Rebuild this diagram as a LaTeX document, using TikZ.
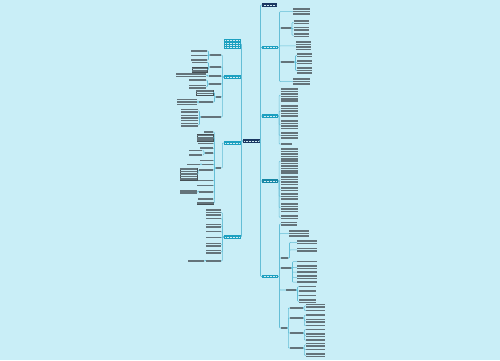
\documentclass[tikz,border=0pt]{standalone}
\definecolor{bg}{RGB}{201,238,247}
\definecolor{linec}{RGB}{100,190,214}
\definecolor{navy}{RGB}{26,55,98}
\definecolor{tealc}{RGB}{28,160,192}
\definecolor{teald}{RGB}{22,135,165}
\definecolor{txt}{RGB}{100,115,122}
\newcommand\tb[6][]{%
 \node[tbox,minimum width=#5pt,minimum height=#6*2.4pt,#1] (#2) at ({#3+#5/2},{#4+#6*1.2}) {};
 \foreach \k in {1,...,#6}{\draw[tl] ({#3+0.4},{#4+\k*2.4-1.2}) -- ({#3+#5-0.4},{#4+\k*2.4-1.2});}%
}
\newcommand\rc[3]{\draw[conn] (#1.east) -- ++(#2,0) |- (#3.west);}
\newcommand\lc[3]{\draw[conn] (#1.west) -- ++(-#2,0) |- (#3.east);}
\begin{document}
\begin{tikzpicture}[x=1pt,y=-1pt,
 conn/.style={draw=linec,line width=0.55pt,rounded corners=0.8pt},
 tbox/.style={inner sep=0pt,outer sep=0pt},
 ob/.style={draw=txt!70!black,line width=0.3pt},
 tl/.style={draw=txt,line width=1.55pt,dash pattern=on 1.7pt off 0.3pt},
 wl/.style={draw=white!80!tealc,line width=0.7pt,dash pattern=on 1.2pt off 0.3pt},
 br/.style={inner sep=0pt,outer sep=0pt,minimum width=16pt,minimum height=3.5pt,
  path picture={\draw[wl]([xshift=1.5pt]path picture bounding box.west)--([xshift=-1.5pt]path picture bounding box.east);}},
]
\fill[bg] (0,0) rectangle (500,360);
\useasboundingbox (0,0) rectangle (500,360);

% centre and main branches
\node[br,fill=navy,minimum width=17pt,minimum height=4pt] (c) at (251,141) {};
\node[br,fill=navy,minimum width=15pt] (R1) at (269.5,5) {};
\node[br,fill=tealc] (R2) at (270,47.5) {};
\node[br,fill=tealc] (R3) at (270,116) {};
\node[br,fill=teald] (R4) at (270,181) {};
\node[br,fill=tealc] (R5) at (270,276.5) {};
\foreach \n in {R1,R2,R3,R4,R5}{\rc{c}{1}{\n}}

\node[tbox,fill=tealc,minimum width=17pt,minimum height=9.5pt] (L1) at (232,43.75) {};
\foreach \yy in {40.8,43.1,45.4,47.7}{\draw[wl] (225,\yy) -- (239,\yy);}
\node[br,fill=tealc,minimum width=17pt] (L2) at (232,77) {};
\node[br,fill=tealc,minimum width=17pt] (L3) at (232,143) {};
\node[br,fill=tealc,minimum width=17pt] (L4) at (232,237) {};
\foreach \n in {L1,L2,L3,L4}{\lc{c}{1}{\n}}

% R2 subtree
\tb{R2a}{293}{8}{17}{3}
\tb{R2b}{281}{26.8}{10}{1}
\tb{R2b1}{293.5}{20}{15}{2}
\tb{R2b2}{293.5}{26.5}{15}{2}
\tb{R2b3}{293.5}{33}{15}{2}
\tb{R2c}{295.5}{41}{16}{4}
\tb{R2d}{281}{60.8}{13}{1}
\tb{R2d1}{297}{53}{15}{2}
\tb{R2d2}{297}{60}{15}{2}
\tb{R2d3}{297}{67}{15}{3}
\tb{R2e}{293}{78}{17}{3}
\foreach \n in {R2a,R2b,R2c,R2d,R2e}{\rc{R2}{1.5}{\n}}
\foreach \n in {R2b1,R2b2,R2b3}{\rc{R2b}{1}{\n}}
\foreach \n in {R2d1,R2d2,R2d3}{\rc{R2d}{1.5}{\n}}

% R3 subtree
\tb{R3a}{280.5}{88}{17}{6}
\tb{R3b}{280.5}{105}{17}{5}
\tb{R3c}{280.5}{120}{17}{4}
\tb{R3d}{280.5}{132}{17}{3}
\tb{R3e}{280.5}{143}{12}{1}
\foreach \n in {R3a,R3b,R3c,R3d,R3e}{\rc{R3}{1.2}{\n}}

% R4 subtree
\tb{R4a}{280.5}{148}{17}{11}
\tb{R4b}{280.5}{176}{17}{4}
\tb{R4c}{280.5}{187}{17}{2}
\tb{R4d}{280.5}{193}{17}{3}
\tb{R4e}{280.5}{203}{17}{4}
\tb{R4f}{280.5}{215}{17}{2}
\foreach \n in {R4a,R4b,R4c,R4d,R4e,R4f}{\rc{R4}{1.2}{\n}}

% R5 subtree
\tb{R5a}{281}{221.5}{16}{2}
\tb{R5b}{289}{230}{20}{3}
\tb{R5c}{281}{256.8}{7}{1}
\tb{R5c1}{297}{240}{20}{2}
\tb{R5c2}{297}{247.5}{20}{2}
\tb{R5d}{281}{266.8}{10}{1}
\tb{R5d1}{297}{260.5}{20}{1}
\tb{R5d2}{297}{265}{20}{2}
\tb{R5d3}{297}{271}{20}{1}
\tb{R5d4}{297}{275}{20}{2}
\tb{R5d5}{297}{281}{20}{1}
\tb{R5e}{286}{288.8}{10}{1}
\tb{R5e1}{299}{285.5}{17}{1}
\tb{R5e2}{299}{290}{17}{1}
\tb{R5e3}{299}{294.5}{17}{1}
\tb{R5e4}{299}{299}{17}{2}
\tb{R5f}{281}{326.8}{6}{1}
\tb{S1}{290}{306.8}{13}{1}
\tb{S2}{290}{316.8}{13}{1}
\tb{S3}{290}{331.8}{13}{1}
\tb{S4}{290}{346.8}{13}{1}
\tb{S1a}{306}{303.5}{19}{2}
\tb{S1b}{306}{309.5}{19}{1}
\tb{S2a}{306}{314}{19}{1}
\tb{S2b}{306}{318.5}{19}{2}
\tb{S2c}{306}{324.5}{19}{1}
\tb{S3a}{306}{328.5}{19}{1}
\tb{S3b}{306}{333}{19}{2}
\tb{S3c}{306}{339}{19}{1}
\tb{S4a}{306}{342.5}{19}{2}
\tb{S4b}{306}{348.5}{19}{1}
\tb{S4c}{306}{353}{19}{2}
\foreach \n in {R5a,R5b,R5c,R5d,R5e,R5f}{\rc{R5}{1.5}{\n}}
\foreach \n in {R5c1,R5c2}{\rc{R5c}{1.5}{\n}}
\foreach \n in {R5d1,R5d2,R5d3,R5d4,R5d5}{\rc{R5d}{1.5}{\n}}
\foreach \n in {R5e1,R5e2,R5e3,R5e4}{\rc{R5e}{1.5}{\n}}
\foreach \n in {S1,S2,S3,S4}{\rc{R5f}{1.3}{\n}}
\foreach \n in {S1a,S1b}{\rc{S1}{1.3}{\n}}
\foreach \n in {S2a,S2b,S2c}{\rc{S2}{1.3}{\n}}
\foreach \n in {S3a,S3b,S3c}{\rc{S3}{1.3}{\n}}
\foreach \n in {S4a,S4b,S4c}{\rc{S4}{1.3}{\n}}

% L2 subtree
\tb{A}{210}{53.8}{11}{1}
\tb{A1}{191}{49.8}{16}{1}
\tb{A2}{191}{54.3}{16}{1}
\tb{A3}{191}{58.8}{16}{1}
\tb{B}{210}{65.8}{11}{1}
\tb{B1}{192}{61.3}{15}{1}
\tb[ob]{B2}{192}{67.5}{15}{2}
\tb{C}{209}{74.8}{12}{1}
\tb{C1}{176}{72.8}{30}{2}
\tb{D}{209}{82.8}{12}{1}
\tb{D1}{189}{79}{17}{1}
\tb{D2}{189}{84.5}{17}{2}
\tb{E}{216}{95.8}{5}{1}
\tb[ob]{E1}{196}{90}{17}{2}
\tb{E2}{199}{100.8}{14}{1}
\tb{E2a}{177}{98.4}{20}{3}
\tb{F}{201}{115.8}{20}{1}
\tb{F1}{181}{108.5}{17}{2}
\tb{F2}{181}{114.5}{17}{3}
\tb{F3}{181}{122.5}{17}{2}
\foreach \n in {A,B,C,D,E,F}{\lc{L2}{1.2}{\n}}
\foreach \n in {A1,A2,A3}{\lc{A}{1.5}{\n}}
\foreach \n in {B1,B2}{\lc{B}{1.5}{\n}}
\lc{C}{1.5}{C1}
\foreach \n in {D1,D2}{\lc{D}{1.5}{\n}}
\foreach \n in {E1,E2}{\lc{E}{1.5}{\n}}
\lc{E2}{1}{E2a}
\foreach \n in {F1,F2,F3}{\lc{F}{1.5}{\n}}

% L3 subtree
\tb{M}{215.5}{166.8}{6}{1}
\lc{L3}{1.2}{M}
\tb{M1}{204}{130.8}{9}{1}
\tb[ob]{M2}{197}{134.2}{16}{3}
\tb{M3}{198}{142.3}{15}{1}
\tb{M4}{200}{147}{13}{1}
\tb{M5}{205}{151.8}{8}{1}
\tb{M5a}{189}{149.3}{13.5}{1}
\tb{M5b}{189}{153.8}{13.5}{1}
\tb{M6}{200}{159.3}{13}{1}
\tb{M7}{202}{163.3}{11}{1}
\tb{M7a}{187}{163.3}{13}{1}
\tb{M8}{199}{168.8}{14}{1}
\tb[ob]{M8a}{180}{168}{17.5}{5}
\tb{M9}{198}{179.5}{15}{1}
\tb{M10}{197}{184.5}{16}{1}
\tb{M11}{199}{190.8}{14}{1}
\tb{M11a}{180}{189.6}{17.5}{2}
\tb{M12}{198}{198}{15}{1}
\tb[ob]{M13}{197}{202}{16}{1}
\foreach \n in {M1,M2,M3,M4,M5,M6,M7,M8,M9,M10,M11,M12,M13}{\lc{M}{1.2}{\n}}
\foreach \n in {M5a,M5b}{\lc{M5}{1.2}{\n}}
\lc{M7}{1}{M7a}
\lc{M8}{0.8}{M8a}
\lc{M11}{0.8}{M11a}

% L4 subtree
\tb{N1}{206}{209}{15}{3}
\tb{N2}{206}{217.5}{15}{1}
\tb{N3}{206}{223.5}{15}{2}
\tb{N4}{206}{230.5}{15}{1}
\tb{N5}{206}{236.5}{15}{1}
\tb{N6}{206}{242.5}{15}{2}
\tb{N7}{206}{249.5}{15}{2}
\tb{N8}{206}{259.8}{15}{1}
\tb{N8a}{188}{259.8}{16.5}{1}
\foreach \n in {N1,N2,N3,N4,N5,N6,N7,N8}{\lc{L4}{1.2}{\n}}
\lc{N8}{0.8}{N8a}
\end{tikzpicture}
\end{document}
